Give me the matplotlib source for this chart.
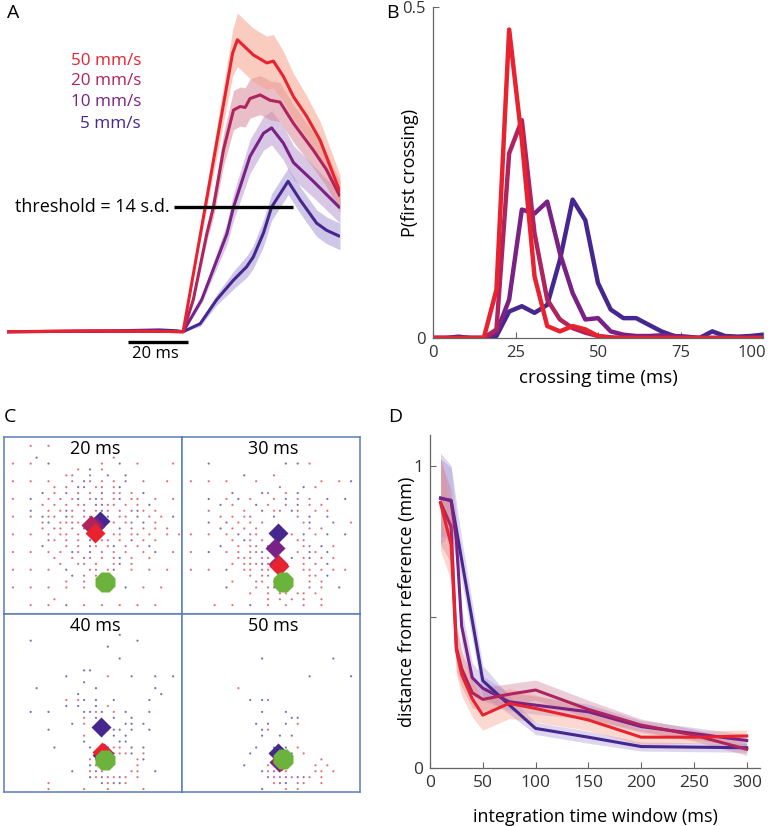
import numpy as np
import matplotlib.pyplot as plt
from matplotlib.transforms import ScaledTranslation

plt.rcParams['font.family'] = ['Open Sans', 'DejaVu Sans']

# colours for the four speeds
speeds = ['50 mm/s', '20 mm/s', '10 mm/s', '5 mm/s']
line_cols = ['#E8232F', '#B0245E', '#7A2185', '#45278F']
band_cols_a = ['#F5A38C', '#D98A9A', '#B89BD0', '#A99AD6']
band_cols_d = ['#F4907A', '#C87090', '#9E8CD0', '#9E8CD0']
green = '#6BB33C'

# ---- panel A : response (s.d.) vs time (ms), onset at 0 ----
t50 = [-58.7, -30, -10, 0, 5, 10, 16.5, 18.1, 23.4, 27.9, 30.1, 33.4, 36.8, 41.2, 45.7, 52.3]
v50 = [0, 0.1, 0.05, 0, 9.5, 19, 31.3, 32.8, 31.1, 30.2, 30.4, 28.7, 26.4, 24.2, 21.5, 15.7]
e50 = [0, 0, 0, 0, 0.5, 1.5, 2.6, 3, 3, 3, 3, 2.8, 2.6, 2.3, 2.1, 1.9]
t20 = [-58.7, -30, -10, 0, 3.4, 7.9, 10.1, 13.5, 16.8, 19, 20.7, 22.3, 25.7, 29, 32.3, 36.8, 43.4, 47.8, 52.3]
v20 = [0, 0.05, 0.05, 0, 3.6, 11, 14, 20.5, 24.9, 25.3, 25.2, 26.2, 26.6, 26, 25.8, 23.4, 20.4, 18.2, 15.2]
e20 = [0, 0, 0, 0, 0.3, 0.8, 1.2, 1.8, 2.2, 2.2, 2.2, 2.2, 2.2, 2.2, 2.2, 2.1, 2, 1.9, 1.8]
t10 = [-58.7, -30, -10, 0, 6.2, 14.6, 16.8, 22.3, 26.8, 29.5, 33.4, 36.8, 43.4, 52.3]
v10 = [0, 0.05, 0.05, 0, 3.6, 11, 14, 19.7, 22.3, 22.9, 21.2, 19, 16.9, 13.9]
e10 = [0, 0, 0, 0, 0.4, 1.2, 1.5, 1.9, 1.9, 1.9, 1.9, 1.9, 1.8, 1.7]
t5 = [-58.7, -30, -8, -2, 0, 5.7, 11.2, 16.8, 21.2, 23.4, 26.8, 29.5, 35, 39, 44.5, 47.8, 52.3]
v5 = [0, 0.05, 0.2, 0.1, 0, 0.9, 3.6, 5.8, 7.3, 8.4, 11.1, 14, 16.9, 14.8, 12.2, 11.4, 10.7]
e5 = [0, 0, 0, 0, 0, 0.3, 0.6, 1, 1.2, 1.3, 1.5, 1.5, 1.5, 1.5, 1.5, 1.5, 1.5]
threshold = 14
thr_span = [-3, 36.7]
scale_bar = [-18.3, 1.7]

# ---- panel B : P(first crossing) ----
b_x = np.linspace(0, 100, 27)
b50 = [0, 0, 0, 0, 0, 0.073, 0.466, 0.299, 0.093, 0.018, 0.01, 0.018, 0.013, 0.003,
       0, 0, 0, 0, 0, 0, 0, 0, 0, 0, 0, 0, 0]
b20 = [0, 0, 0, 0, 0, 0.013, 0.279, 0.329, 0.158, 0.058, 0.028, 0.015, 0.008, 0.003,
       0.001, 0, 0, 0, 0, 0, 0, 0, 0, 0, 0, 0, 0]
b10 = [0, 0, 0, 0, 0, 0.008, 0.058, 0.194, 0.188, 0.206, 0.128, 0.068, 0.028, 0.03,
       0.01, 0.005, 0.003, 0.003, 0.004, 0.003, 0.001, 0, 0, 0, 0, 0, 0]
b5 = [0, 0, 0.002, 0, 0, 0.003, 0.04, 0.048, 0.038, 0.05, 0.118, 0.209, 0.178, 0.083,
      0.043, 0.03, 0.03, 0.02, 0.01, 0.003, 0.002, 0, 0.01, 0.003, 0.002, 0.003, 0.005]

# ---- panel C : decoded positions (grid cells) ----
c_titles = ['20 ms', '30 ms', '40 ms', '50 ms']
MAP_20 = [
    "..............................",
    "....r..r......................",
    "..............................",
    ".....b............m...........",
    ".r..r..b........r..b..r.....r.",
    "............r.b.r.............",
    "..........rm..m..p..b.........",
    ".r..r..r...m.bm.r.r.p..m...r..",
    "........r.r.bp.rm.rb..........",
    "......b.r.p.m.r.b.mr.r.b......",
    ".r..b..r.m.rb.mpr.rb.rm..r..r.",
    "......r.m.r.rm.bprm.r.r.b.....",
    "....b..r.rpm.m.rbr.m.pbr.r....",
    ".r..m.brm.br.mr.rb.mr.b.r.r.b.",
    "......rb.rrmr.m...r.rp.b.r....",
    "......r.mr.m.b.....b.m.r.r.r..",
    ".r..r..m.rr.r.m...rr.rm.r..r.r",
    ".......mr.m.r.b.rm.r.b.r.r....",
    "......b...r.m.pr.rb.m.r.b.....",
    ".r..r..r.m.br.b.m.r.r..r.b..r.",
    "........r..r.pm.r.rb.r..r.....",
    ".........r..mr.m..rb.r........",
    ".r..r..r..b...rm.rb..r..r..r..",
    "...........b.r.r.m............",
    "..........r..m................",
    ".r..r..r..r..r......b..r..r...",
    "..............................",
    "........r.....................",
    "....r..r..b..r..r..r..r..r....",
    "..............................",
]
MAP_30 = [
    "..............................",
    "..............................",
    "..............................",
    "..............................",
    "....b............b.b.r........",
    "..............................",
    "..........b....r..............",
    ".r..r..r....r..........r..r.b.",
    "................m...b.r.......",
    "........b....bm..m.b..........",
    "....b..r.b.r...r.b.m.r..b..b..",
    "......b.r...b.r..m.b.r.r......",
    "....m.....r..b.rm.bm..r.r.....",
    "......r.r.rm...b...m.b..b.....",
    "....b..b.r.r.m......rb...b..r.",
    "......b.r.m.r........r.m......",
    ".r..r..r.b.mr.....r.b.r.b..b..",
    "........r.br.m.....mr.........",
    "......b..r.rm.b.....rm.b.r....",
    ".r..b..r.r.rmb.....r.br.b.....",
    ".........mrr.rm.r.b.rb.r.r....",
    "........r.rmrbm.....r.m.b.....",
    ".r..r..b..rr.mr.....rr.r.r.r..",
    "...........r.rm......rm.b.....",
    "........r...mr.r.....r.r......",
    ".......b....r.rm.....m.r..b...",
    "...........r..r.rr.rr.r.......",
    "..............r.r.r.r..r......",
    ".....r..r..b..r..r..r..r......",
    "..............................",
]
MAP_40 = [
    "..............................",
    "..............................",
    "..............................",
    "...................b..........",
    "....b.................b.......",
    ".................b............",
    "..............................",
    "...................b..........",
    "..............................",
    ".............bb...............",
    "..........b......r...b...b..b.",
    ".............b................",
    ".....b.........b.........b....",
    "............b.............b...",
    "..........r.rb.b..b.....b.....",
    "..........b.b..b.r............",
    "....b..b.....bbrb.r.b...b.....",
    ".............r.b..b..b........",
    "...........b.r......bb.b......",
    ".......b.........bbp.b..b.....",
    ".............r..b.b.b.........",
    ".............b.....bb.........",
    "........b.....b.rprr.b.b......",
    "...............rrrmrrb.r......",
    "..............rmr.....rb......",
    "..............bmr.....r.......",
    "...........b..rpr....mr..b....",
    "..............brpmrpr.r.......",
    ".......r........bmpbr.........",
    ".......r.....r...r.....r......",
]
MAP_50 = [
    "..............................",
    "..............................",
    "..............................",
    "..............................",
    "..............................",
    "..............................",
    "..............................",
    ".............b...........b....",
    "..............................",
    "..............................",
    ".....................b......b.",
    "..............................",
    ".........r....................",
    "..............................",
    "...........b.br...............",
    "..............................",
    ".............b...b............",
    "..................bb..........",
    "............b.b..b.r..........",
    ".............br...............",
    ".............b..b.b...........",
    "..............................",
    "............b..b.b.r..........",
    "...........b.....mb.r.........",
    "...............pmb.....m......",
    "..........b...rp......r.r.....",
    ".............brpmr....mr.r....",
    "..............pmrpmbpr.r......",
    "...............rpb.mr..r......",
    ".............b...r.r..........",
]
c_maps = [MAP_20, MAP_30, MAP_40, MAP_50]
# mean positions (cell units) per panel: 50, 20, 10, 5 mm/s, then reference
c_mean_x = [[15.4, 14.7, 15.3, 16.2, 17.1],
            [16.3, 16.2, 15.7, 16.2, 17.1],
            [16.6, 16.8, 16.6, 16.4, 17.1],
            [16.8, 16.7, 16.3, 16.2, 17.1]]
c_mean_y = [[16.3, 14.9, 15.0, 14.3, 24.5],
            [21.9, 21.5, 18.8, 16.3, 24.6],
            [23.2, 23.5, 23.8, 19.1, 24.6],
            [24.6, 24.8, 25.0, 23.5, 24.4]]
dot_cols = {'r': '#E0404A', 'm': '#B84070', 'p': '#7A3A90', 'b': '#4A40A0'}

# ---- panel D : distance from reference ----
d_x = [10, 20, 25, 30, 40, 50, 75, 100, 150, 200, 250, 300]
d50 = [0.877, 0.74, 0.39, 0.31, 0.23, 0.176, 0.215, 0.198, 0.16, 0.103, 0.103, 0.107]
d20 = [0.88, 0.80, 0.40, 0.33, 0.25, 0.228, 0.245, 0.259, 0.195, 0.143, 0.11, 0.063]
d10 = [0.895, 0.885, 0.755, 0.47, 0.30, 0.265, 0.22, 0.209, 0.187, 0.138, 0.115, 0.092]
d5 = [0.893, 0.887, 0.79, 0.69, 0.49, 0.29, 0.21, 0.132, 0.103, 0.072, 0.07, 0.068]
de50 = [0.155, 0.12, 0.08, 0.07, 0.06, 0.05, 0.05, 0.045, 0.035, 0.025, 0.02, 0.02]
de20 = [0.14, 0.12, 0.08, 0.06, 0.05, 0.04, 0.035, 0.033, 0.03, 0.02, 0.02, 0.02]
de10 = [0.13, 0.11, 0.08, 0.06, 0.05, 0.04, 0.03, 0.03, 0.025, 0.02, 0.02, 0.02]
de5 = [0.15, 0.115, 0.09, 0.07, 0.06, 0.05, 0.03, 0.02, 0.02, 0.015, 0.015, 0.015]

W, H = 771, 826
fig = plt.figure(figsize=(W / 100, H / 100), dpi=100)


def box(x0, y0, x1, y1):
    # pixel box (top-left origin) -> figure fraction rect
    return [x0 / W, 1 - y1 / H, (x1 - x0) / W, (y1 - y0) / H]


# ---------------- A ----------------
axA = fig.add_axes(box(7, 10, 340, 365))
axA.set_xlim(-58.7, 52.3)
axA.set_ylim((331.7 - 365) / 8.9, (331.7 - 10) / 8.9)
axA.axis('off')
a_t = [t50, t20, t10, t5]
a_v = [v50, v20, v10, v5]
a_e = [e50, e20, e10, e5]
for i in [3, 2, 1, 0]:
    v = np.array(a_v[i]); e = np.array(a_e[i])
    axA.fill_between(a_t[i], v - e, v + e, color=band_cols_a[i], alpha=0.55, lw=0)
for i in [3, 2, 1, 0]:
    axA.plot(a_t[i], a_v[i], color=line_cols[i], lw=2.2, solid_capstyle='butt')
axA.plot(thr_span, [threshold, threshold], color='k', lw=2.4, solid_capstyle='butt')
axA.text(thr_span[0] - 1.3, threshold, 'threshold = 14 s.d.', ha='right', va='center', fontsize=13)
axA.plot(scale_bar, [-1.2, -1.2], color='k', lw=2.4, solid_capstyle='butt', clip_on=False)
axA.text(np.mean(scale_bar) - 1, -1.6, '20 ms', ha='center', va='top', fontsize=12)
leg_y = [30.4, 28.2, 25.8, 23.3]
for i, s in enumerate(speeds):
    axA.text(-14, leg_y[i], s, ha='right', va='center', fontsize=12.3, color=line_cols[i])

# ---------------- B ----------------
axB = fig.add_axes(box(433, 7, 763, 338))
for i, vals in zip([3, 2, 1, 0], [b5, b10, b20, b50]):
    axB.plot(b_x, vals, color=line_cols[i], lw=3.2)
axB.set_xlim(0, 100)
axB.set_ylim(0, 0.5)
axB.set_xticks([0, 25, 50, 75, 100])
axB.set_yticks([0, 0.5])
axB.set_yticklabels(['0', '0.5'])
axB.set_xlabel('crossing time (ms)', fontsize=13.5, labelpad=6)
axB.set_ylabel('P(first crossing)', fontsize=13, labelpad=-12)

# ---------------- C ----------------
c_boxes = [(4, 437, 182, 614), (182, 437, 360, 614), (4, 614, 182, 792), (182, 614, 360, 792)]
mean_cols = [line_cols[0], line_cols[1], line_cols[2], line_cols[3]]
for k in range(4):
    ax = fig.add_axes(box(*c_boxes[k]))
    ax.set_xlim(0, 30)
    ax.set_ylim(30, 0)
    ax.set_xticks([]); ax.set_yticks([])
    for sp in ax.spines.values():
        sp.set_color('#5B7DB8'); sp.set_linewidth(1.1)
    xs, ys, cs = [], [], []
    for r, row in enumerate(c_maps[k]):
        for c, ch in enumerate(row):
            if ch in dot_cols:
                xs.append(c + 0.5); ys.append(r + 0.5); cs.append(dot_cols[ch])
    ax.scatter(xs, ys, s=2.5, c=cs, linewidths=0, alpha=0.75)
    for j in [3, 2, 1, 0]:
        ax.plot(c_mean_x[k][j], c_mean_y[k][j], 'D', ms=10, color=mean_cols[j], mec='none')
    ax.plot(c_mean_x[k][4], c_mean_y[k][4], '8', ms=16, color=green, mec='none')
    ax.text(15.3, 2.1, c_titles[k], ha='center', va='center', fontsize=13)

# ---------------- D ----------------
axD = fig.add_axes(box(430, 435, 760, 768.3))
d_v = [d5, d10, d20, d50]
d_e = [de5, de10, de20, de50]
idx = [3, 2, 1, 0]
for v, e, i in zip(d_v, d_e, idx):
    v = np.array(v); e = np.array(e)
    axD.fill_between(d_x, v - e, v + e, color=band_cols_d[i], alpha=0.35, lw=0)
for v, i in zip(d_v, idx):
    axD.plot(d_x, v, color=line_cols[i], lw=2.2)
axD.set_xlim(0, 312.6)
axD.set_ylim(0, 1.103)
axD.set_xticks([0, 50, 100, 150, 200, 250, 300])
axD.set_yticks([0, 0.5, 1])
axD.set_yticklabels(['0', '', '1'])
axD.set_xlabel('integration time window (ms)', fontsize=13, labelpad=12)
axD.set_ylabel('distance from reference (mm)', fontsize=13, labelpad=-2)

for ax in (axB, axD):
    for side in ('top', 'right'):
        ax.spines[side].set_visible(False)
    for side in ('left', 'bottom'):
        ax.spines[side].set_color('#666666'); ax.spines[side].set_linewidth(0.9)
    ax.tick_params(direction='in', length=4, width=0.8, colors='#666666',
                   labelcolor='#333333', labelsize=12.5, pad=5)
axB.tick_params(labelsize=12)
# keep the last B tick label inside the figure edge
last = axB.get_xticklabels()[-1]
last.set_transform(last.get_transform() + ScaledTranslation(-8 / 72, 0, fig.dpi_scale_trans))

for lab, x, y in [('A', 7, 4), ('B', 386, 4), ('C', 4, 408), ('D', 388, 408)]:
    fig.text(x / W, 1 - y / H, lab, ha='left', va='top', fontsize=14)

fig.savefig('out.png', dpi=100)
